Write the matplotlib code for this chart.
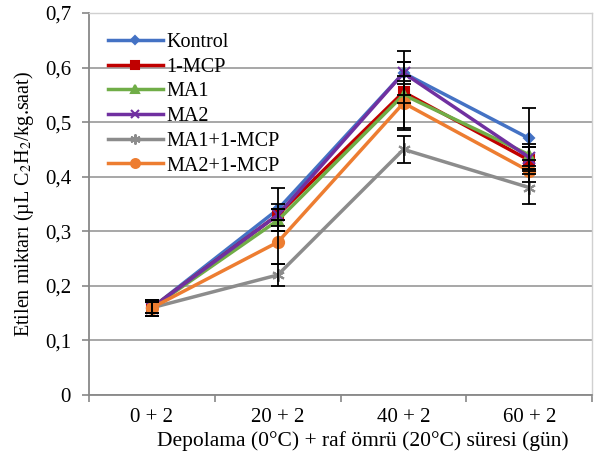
import numpy as np
import matplotlib.pyplot as plt

plt.rcParams['font.family'] = ['Liberation Serif', 'DejaVu Serif']
plt.rcParams['mathtext.fontset'] = 'stix'

# categories on the x axis
categories = ['0 + 2', '20 + 2', '40 + 2', '60 + 2']

# series names
names = ['Kontrol', '1-MCP', 'MA1', 'MA2', 'MA1+1-MCP', 'MA2+1-MCP']

# mean values
kontrol = [0.16, 0.34, 0.59, 0.47]
mcp = [0.16, 0.33, 0.555, 0.43]
ma1 = [0.16, 0.32, 0.55, 0.44]
ma2 = [0.16, 0.33, 0.59, 0.435]
ma1_mcp = [0.16, 0.22, 0.45, 0.38]
ma2_mcp = [0.16, 0.28, 0.535, 0.41]

# error bars
kontrol_err = [0.015, 0.04, 0.04, 0.055]
mcp_err = [0.01, 0.01, 0.02, 0.025]
ma1_err = [0.01, 0.02, 0.06, 0.02]
ma2_err = [0.015, 0.02, 0.02, 0.02]
ma1_mcp_err = [0.015, 0.02, 0.025, 0.03]
ma2_mcp_err = [0.015, 0.04, 0.05, 0.02]

values = [kontrol, mcp, ma1, ma2, ma1_mcp, ma2_mcp]
errors = [kontrol_err, mcp_err, ma1_err, ma2_err, ma1_mcp_err, ma2_mcp_err]
colors = ['#4472C4', '#C00000', '#70AD47', '#7030A0', '#8C8C8C', '#ED7D31']
markers = ['D', 's', '^', 'x', (6, 2, 0), 'o']
msizes = [5, 7, 7, 8, 9, 8]

fig = plt.figure(figsize=(5.94, 4.61), dpi=100)
ax = fig.add_axes([0.15, 0.143, 0.847, 0.829])

x = np.arange(len(categories))
for name, v, e, c, m, ms in zip(names, values, errors, colors, markers, msizes):
    ax.plot(x, v, color=c, marker=m, markersize=ms, linewidth=2.5,
            markeredgewidth=1.5, label=name, zorder=3)
    ax.errorbar(x, v, yerr=e, fmt='none', ecolor='black', elinewidth=1.3,
                capsize=5, capthick=1.3, zorder=4)

ax.set_xlim(-0.5, len(categories) - 0.5)
ax.set_ylim(0, 0.7)
yt = np.arange(0, 0.71, 0.1)
ax.set_yticks(yt)
ax.set_yticklabels([f'{t:.1f}'.replace('.', ',') if t > 0 else '0' for t in yt])
ax.set_xticks(x)
ax.set_xticklabels(categories)
ax.set_xticks(np.arange(-0.5, len(categories), 1), minor=True)
ax.tick_params(axis='x', which='major', length=0, pad=9, labelsize=15)
ax.tick_params(axis='x', which='minor', length=5, color='#888888', width=1.2)
ax.tick_params(axis='y', length=5, color='#888888', width=1.2, labelsize=15, pad=8)
ax.grid(axis='y', color='#A0A0A0', linewidth=1.3, zorder=0)
ax.set_axisbelow(True)

for s in ['left', 'bottom']:
    ax.spines[s].set_color('#888888')
    ax.spines[s].set_linewidth(1.3)
for s in ['top', 'right']:
    ax.spines[s].set_color('#D0D0D0')
    ax.spines[s].set_linewidth(1.0)

ax.set_xlabel('Depolama (0°C) + raf ömrü (20°C) süresi (gün)', fontsize=15.5)
ax.xaxis.set_label_coords(0.545, -0.095)
ax.set_ylabel('Etilen miktarı (µL C$_2$H$_2$/kg.saat)', fontsize=14.5)
ax.yaxis.set_label_coords(-0.105, 0.5)

ax.legend(loc='upper left', bbox_to_anchor=(0.01, 0.985), frameon=False, fontsize=14.5,
          handlelength=2.7, labelspacing=0.28, handletextpad=0.2, borderaxespad=0.3,
          markerscale=0.8)

fig.savefig('out.png', dpi=100)
